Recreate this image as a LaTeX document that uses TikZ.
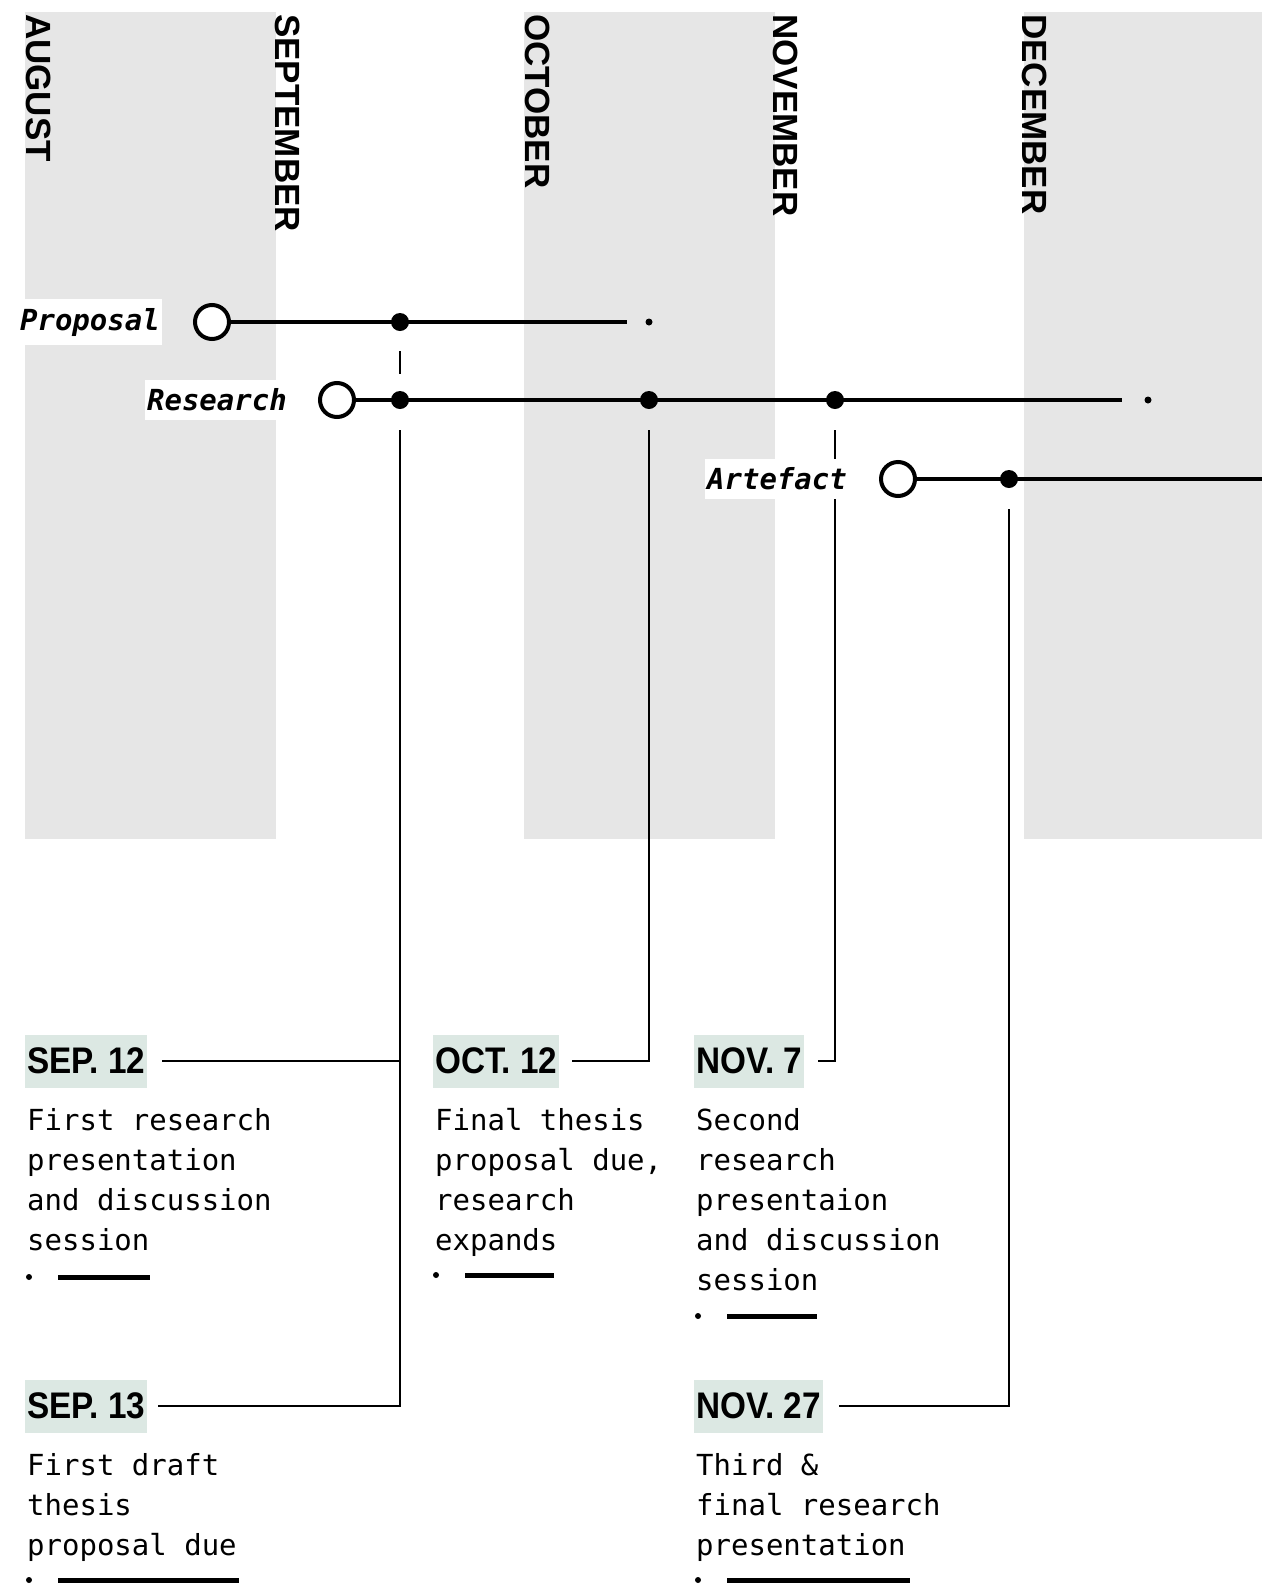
\documentclass[tikz,border=0pt]{standalone}
\usepackage{fontspec}
\setmainfont{Liberation Sans}
\newfontfamily\monthfont{Liberation Sans}
\newfontfamily\datefont[FakeStretch=0.9]{Liberation Sans}
\newfontfamily\monofont{DejaVu Sans Mono}
\usetikzlibrary{positioning}

\begin{document}
\begin{tikzpicture}[x=1pt, y=-1pt,
  band/.style={fill=bandgray},
  month/.style={font=\monthfont\bfseries\fontsize{35}{35}\selectfont, rotate=-90, anchor=base west, inner sep=0pt},
  track/.style={line width=4pt},
  startdot/.style={circle, draw, line width=4pt, fill=white, minimum size=34pt, inner sep=0pt},
  stopdot/.style={circle, fill, minimum size=18pt, inner sep=0pt},
  enddot/.style={circle, fill, minimum size=7pt, inner sep=0pt},
  tracklabel/.style={font=\monofont\bfseries\itshape\fontsize{29}{29}\selectfont, fill=white, inner xsep=2pt, inner ysep=9pt},
  datebox/.style={font=\datefont\bfseries\fontsize{37}{37}\selectfont, fill=datebg, inner xsep=2pt, minimum height=53pt, anchor=west},
  desc/.style={font=\monofont\fontsize{29}{40}\selectfont, align=left, inner sep=0pt, anchor=base west},
  conn/.style={line width=2pt},
  bar/.style={line width=5pt}]
  % colors
  \definecolor{bandgray}{RGB}{230,230,230}
  \definecolor{datebg}{RGB}{220,232,227}

  % page
  \fill[white] (0,0) rectangle (1262,1585);
  \useasboundingbox (0,0) rectangle (1262,1585);

  % month bands
  \fill[band] (25,12) rectangle (276,839);
  \fill[band] (524,12) rectangle (775,839);
  \fill[band] (1024,12) rectangle (1262,839);

  % month names
  \node[month] (aug) at (26,14) {AUGUST};
  \node[month] (sep) at (275,14) {SEPTEMBER};
  \node[month] (oct) at (525,14) {OCTOBER};
  \node[month] (nov) at (773,14) {NOVEMBER};
  \node[month] (dec) at (1022,14) {DECEMBER};

  % dates
  \node[datebox] (sep12) at (25,1061) {SEP. 12};
  \node[datebox] (oct12) at (433,1061) {OCT. 12};
  \node[datebox] (nov7) at (694,1061) {NOV. 7};
  \node[datebox] (sep13) at (25,1406) {SEP. 13};
  \node[datebox] (nov27) at (694,1406) {NOV. 27};

  % tracks
  \node[startdot] (pstart) at (212,322) {};
  \node[stopdot] (pd1) at (400,322) {};
  \coordinate (pend) at (627,322);
  \node[enddot] (pfin) at (649,322) {};

  \node[startdot] (rstart) at (337,400) {};
  \node[stopdot] (rd1) at (400,400) {};
  \node[stopdot] (rd2) at (649,400) {};
  \node[stopdot] (rd3) at (835,400) {};
  \coordinate (rend) at (1122,400);
  \node[enddot] (rfin) at (1148,400) {};

  \node[startdot] (astart) at (898,479) {};
  \node[stopdot] (ad1) at (1009,479) {};
  \coordinate (aend) at (1262,479);

  \draw[track] (pstart) -- (pend);
  \draw[track] (rstart) -- (rend);
  \draw[track] (astart) -- (aend);

  % connectors
  \draw[conn] ([yshift=-29pt]pd1.center) -- ([yshift=26pt]rd1.center);
  \draw[conn] ([yshift=-30pt]rd1.center) |- ([xshift=11pt]sep13.east);
  \draw[conn] ([xshift=15pt]sep12.east) -- (sep12.east -| rd1);
  \draw[conn] ([yshift=-30pt]rd2.center) |- ([xshift=12pt]oct12.east);
  \draw[conn] ([yshift=-30pt]rd3.center) |- ([xshift=13pt]nov7.east);
  \draw[conn] ([yshift=-30pt]ad1.center) |- ([xshift=16pt]nov27.east);

  % track names
  \node[tracklabel, left=31pt of pstart] (plabel) {Proposal};
  \node[tracklabel, left=29pt of rstart] (rlabel) {Research};
  \node[tracklabel, left=30pt of astart] (alabel) {Artefact};

  % descriptions (placed at the baseline of their last line)
  \node[desc] (sep12txt) at (27,1250) {First research\\presentation\\and discussion\\session};
  \node[desc] (oct12txt) at (435,1250) {Final thesis\\proposal due,\\research\\expands};
  \node[desc] (nov7txt) at (696,1290) {Second\\research\\presentaion\\and discussion\\session};
  \node[desc] (sep13txt) at (27,1555) {First draft\\thesis\\proposal due};
  \node[desc] (nov27txt) at (696,1555) {Third \&\\final research\\presentation};

  % end marks
  \fill (29,1277) circle (3);
  \draw[bar] (58,1277) -- (150,1277);
  \fill (436,1275) circle (3);
  \draw[bar] (465,1275) -- (554,1275);
  \fill (698,1316) circle (3);
  \draw[bar] (727,1316) -- (817,1316);
  \fill (29,1580) circle (3);
  \draw[bar] (58,1580) -- (239,1580);
  \fill (698,1580) circle (3);
  \draw[bar] (727,1580) -- (910,1580);
\end{tikzpicture}
\end{document}
